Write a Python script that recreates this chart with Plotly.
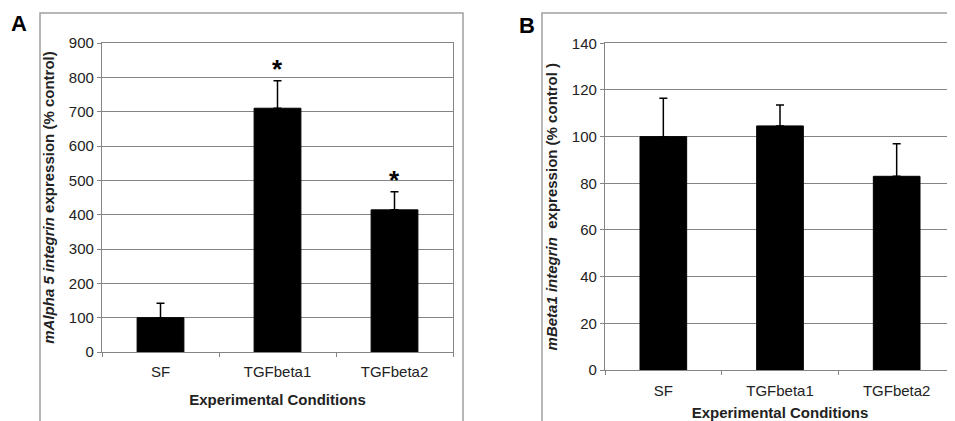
import plotly.graph_objects as go

categories = ["SF", "TGFbeta1", "TGFbeta2"]
alpha5_values = [100, 710, 414]
alpha5_err = [42, 80, 53]
alpha5_sig = [False, True, True]
beta1_values = [100, 104.6, 83]
beta1_err = [16.5, 9, 14]

OFF = 8  # browser default body margin
W, H = 955 - OFF, 421 - OFF
FONT = "Arial, Liberation Sans, sans-serif"
TXT = "#222222"
GRID = "#858585"
FRAME = "#a0a0a0"

def px(x):
    return (x - OFF) / W

def py(y):
    return 1 - (y - OFF) / H

fig = go.Figure()

fig.add_trace(go.Bar(
    x=categories, y=alpha5_values, xaxis="x", yaxis="y",
    marker=dict(color="black", line=dict(color="black", width=1)), width=0.4,
    error_y=dict(type="data", symmetric=False, array=alpha5_err, arrayminus=[0, 0, 0],
                 color="black", thickness=1.5, width=4),
    showlegend=False))

fig.add_trace(go.Bar(
    x=categories, y=beta1_values, xaxis="x2", yaxis="y2",
    marker=dict(color="black", line=dict(color="black", width=1)), width=0.4,
    error_y=dict(type="data", symmetric=False, array=beta1_err, arrayminus=[0, 0, 0],
                 color="black", thickness=1.5, width=4),
    showlegend=False))

axis_common = dict(showline=True, linecolor=GRID, linewidth=1.2, mirror=True,
                   ticks="outside", ticklen=4, tickcolor=GRID, tickwidth=1,
                   tickfont=dict(family=FONT, size=15, color=TXT), automargin=False)

fig.update_layout(
    width=W, height=H,
    margin=dict(l=0, r=0, t=0, b=0),
    paper_bgcolor="white", plot_bgcolor="white",
    bargap=0.6,
    xaxis=dict(domain=[px(102), px(453)], anchor="y", tickson="boundaries",
               showgrid=False, ticklabelstandoff=6,
               title=dict(text="<b>Experimental Conditions</b>",
                          font=dict(family=FONT, size=15, color=TXT), standoff=15),
               **axis_common),
    yaxis=dict(domain=[py(352), py(43)], anchor="x", range=[0, 900], dtick=100,
               showgrid=True, gridcolor=GRID, gridwidth=1,
               title=dict(text="<b><i>mAlpha 5 integrin</i> expression (% control)</b>",
                          font=dict(family=FONT, size=15, color=TXT), standoff=10),
               **axis_common),
    xaxis2=dict(domain=[px(605), 1.0], anchor="y2", tickson="boundaries",
                showgrid=False, ticklabelstandoff=7,
                title=dict(text="<b>Experimental Conditions</b>",
                           font=dict(family=FONT, size=15, color=TXT), standoff=10),
                **axis_common),
    yaxis2=dict(domain=[py(370), py(43.3)], anchor="x2", range=[0, 140], dtick=20,
                showgrid=True, gridcolor=GRID, gridwidth=1,
                title=dict(text="<b><i>mBeta1 integrin</i>  expression (% control )</b>",
                           font=dict(family=FONT, size=15, color=TXT), standoff=10),
                **axis_common),
)

# outer panel frames
fig.add_shape(type="rect", xref="paper", yref="paper",
              x0=px(40), x1=px(463), y0=-0.2, y1=py(13),
              line=dict(color=FRAME, width=1.5), layer="below")
fig.add_shape(type="rect", xref="paper", yref="paper",
              x0=px(542), x1=1.2, y0=-0.2, y1=py(13),
              line=dict(color=FRAME, width=1.5), layer="below")

# panel letters
for letter, xx, yy in [("A", 19, 23.5), ("B", 527, 25.5)]:
    fig.add_annotation(text="<b>%s</b>" % letter, xref="paper", yref="paper",
                       x=px(xx), y=py(yy), xanchor="center", yanchor="middle",
                       showarrow=False,
                       font=dict(family=FONT, size=22, color="black"))

# significance asterisks
for cat, v, e, s in zip(categories, alpha5_values, alpha5_err, alpha5_sig):
    if s:
        fig.add_annotation(text="<b>*</b>", xref="x", yref="y", x=cat, y=v + e,
                           xanchor="center", yanchor="bottom", showarrow=False,
                           yshift=-5,
                           font=dict(family=FONT, size=26, color="black"))

fig.write_html("out.html")
